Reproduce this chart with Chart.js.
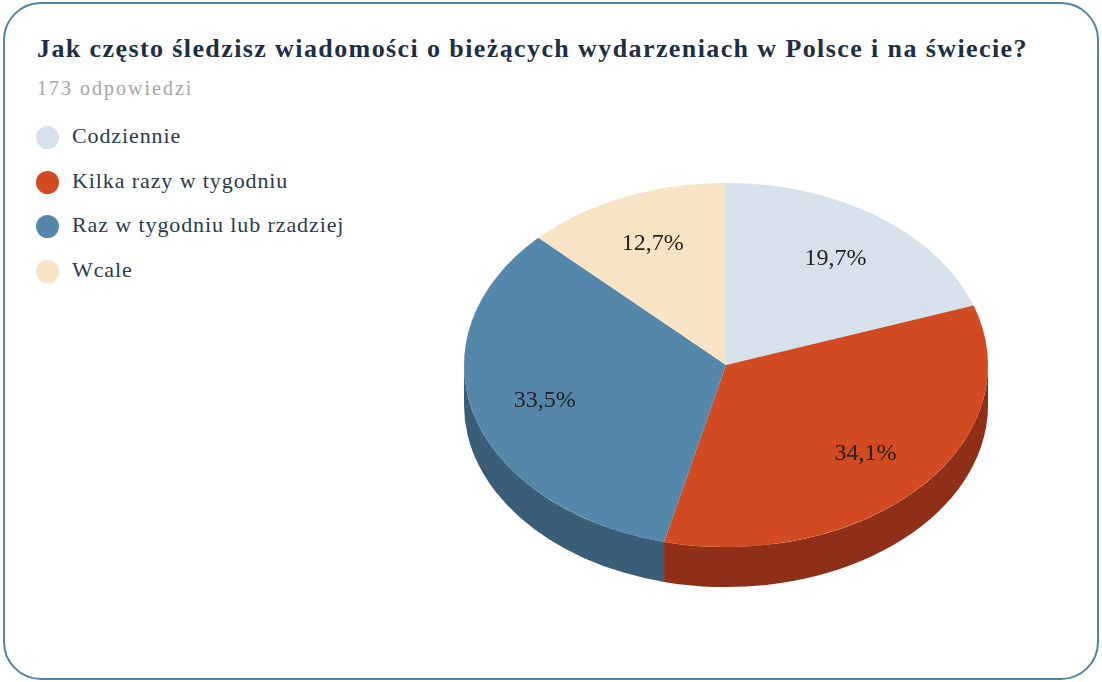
<!DOCTYPE html>
<html>
<head>
<meta charset="utf-8">
<title>Jak często śledzisz wiadomości</title>
<script src="https://cdn.jsdelivr.net/npm/chart.js@4.4.1/dist/chart.umd.min.js"></script>
<style>
  body { margin: 0; width: 1102px; height: 682px; position: relative; overflow: hidden; background: #fff;
         font-family: 'Liberation Serif', serif; }
  .card { position: absolute; left: 3px; top: 2px; width: 1096px; height: 678px; box-sizing: border-box;
          border: 2px solid #5383a8; border-radius: 38px; }
  h1 { position: absolute; left: 37px; top: 34px; margin: 0; font-family: 'Liberation Serif', serif;
       font-size: 26px; line-height: 30px; letter-spacing: 1.4px; font-weight: bold; color: #1c2f45; white-space: nowrap; }
  .sub { position: absolute; left: 37px; top: 76px; font-family: 'Liberation Serif', serif;
         font-size: 20px; line-height: 24px; letter-spacing: 2px; color: #a5a5a5; }
  .legend { position: absolute; left: 36px; top: 124px; }
  .legend div { height: 44.5px; display: flex; align-items: flex-start; font-family: 'Liberation Serif', serif;
                font-size: 22px; line-height: 24px; letter-spacing: 0.9px; color: #2a3a4c; }
  .legend span.dot { width: 23px; height: 23px; border-radius: 50%; margin: 2px 13px 0 0; flex: none; }
  #pie { position: absolute; left: 426px; top: 103px; }
</style>
</head>
<body>
<div class="card"></div>
<h1>Jak często śledzisz wiadomości o bieżących wydarzeniach w Polsce i na świecie?</h1>
<div class="sub">173 odpowiedzi</div>
<div class="legend" id="legend"></div>
<canvas id="pie" width="600" height="524"></canvas>
<script>
// dane z ankiety (procent odpowiedzi)
const categories = ['Codziennie', 'Kilka razy w tygodniu', 'Raz w tygodniu lub rzadziej', 'Wcale'];
const shares = [19.7, 34.1, 33.5, 12.7];
const topColors = ['#d6e1eb', '#d14a22', '#5587ab', '#f7e4c4'];
const sideColors = ['#a7b3be', '#8f2f18', '#3b5e78', '#c9b48e'];

// wygląd 3D
const tilt = 0.695;   // spłaszczenie elipsy
const depth = 40;     // grubość krążka
const labelRadius = 0.72;

// legenda w HTML
const legendEl = document.getElementById('legend');
categories.forEach((name, i) => {
    const row = document.createElement('div');
    const dot = document.createElement('span');
    dot.className = 'dot';
    dot.style.background = topColors[i];
    row.appendChild(dot);
    row.appendChild(document.createTextNode(name));
    legendEl.appendChild(row);
});

function formatPct(v) {
    return v.toFixed(1).replace('.', ',') + '%';
}

// plugin: boczna ściana + spłaszczenie + etykiety
const pie3d = {
    id: 'pie3d',
    beforeDatasetsDraw(chart) {
        const ctx = chart.ctx;
        const arcs = chart.getDatasetMeta(0).data;
        const cx = arcs[0].x, cy = arcs[0].y, r = arcs[0].outerRadius;
        const ry = r * tilt;
        ctx.save();
        arcs.forEach((arc, i) => {
            for (let k = -1; k <= 1; k++) {
                const s = Math.max(arc.startAngle + k * 2 * Math.PI, 0);
                const e = Math.min(arc.endAngle + k * 2 * Math.PI, Math.PI);
                if (e <= s) continue;
                ctx.beginPath();
                ctx.ellipse(cx, cy, r, ry, 0, s, e);
                ctx.ellipse(cx, cy + depth, r, ry, 0, e, s, true);
                ctx.closePath();
                ctx.fillStyle = sideColors[i];
                ctx.fill();
            }
        });
        ctx.restore();
        // górna powierzchnia rysowana w spłaszczonym układzie
        ctx.save();
        ctx.translate(0, cy);
        ctx.scale(1, tilt);
        ctx.translate(0, -cy);
    },
    afterDatasetsDraw(chart) {
        const ctx = chart.ctx;
        ctx.restore();
        const arcs = chart.getDatasetMeta(0).data;
        ctx.save();
        ctx.font = '24px "Liberation Serif", serif';
        ctx.fillStyle = '#222222';
        ctx.textAlign = 'center';
        ctx.textBaseline = 'middle';
        arcs.forEach((arc, i) => {
            const mid = (arc.startAngle + arc.endAngle) / 2;
            const x = arc.x + Math.cos(mid) * arc.outerRadius * labelRadius;
            const y = arc.y + Math.sin(mid) * arc.outerRadius * labelRadius * tilt;
            ctx.fillText(formatPct(shares[i]), x, y);
        });
        ctx.restore();
    }
};

new Chart(document.getElementById('pie'), {
    type: 'pie',
    data: {
        labels: categories,
        datasets: [{
            data: shares,
            backgroundColor: topColors,
            borderWidth: 0
        }]
    },
    options: {
        responsive: false,
        animation: false,
        events: [],
        layout: { padding: 0 },
        plugins: {
            legend: { display: false },
            tooltip: { enabled: false }
        }
    },
    plugins: [pie3d]
});
</script>
</body>
</html>
